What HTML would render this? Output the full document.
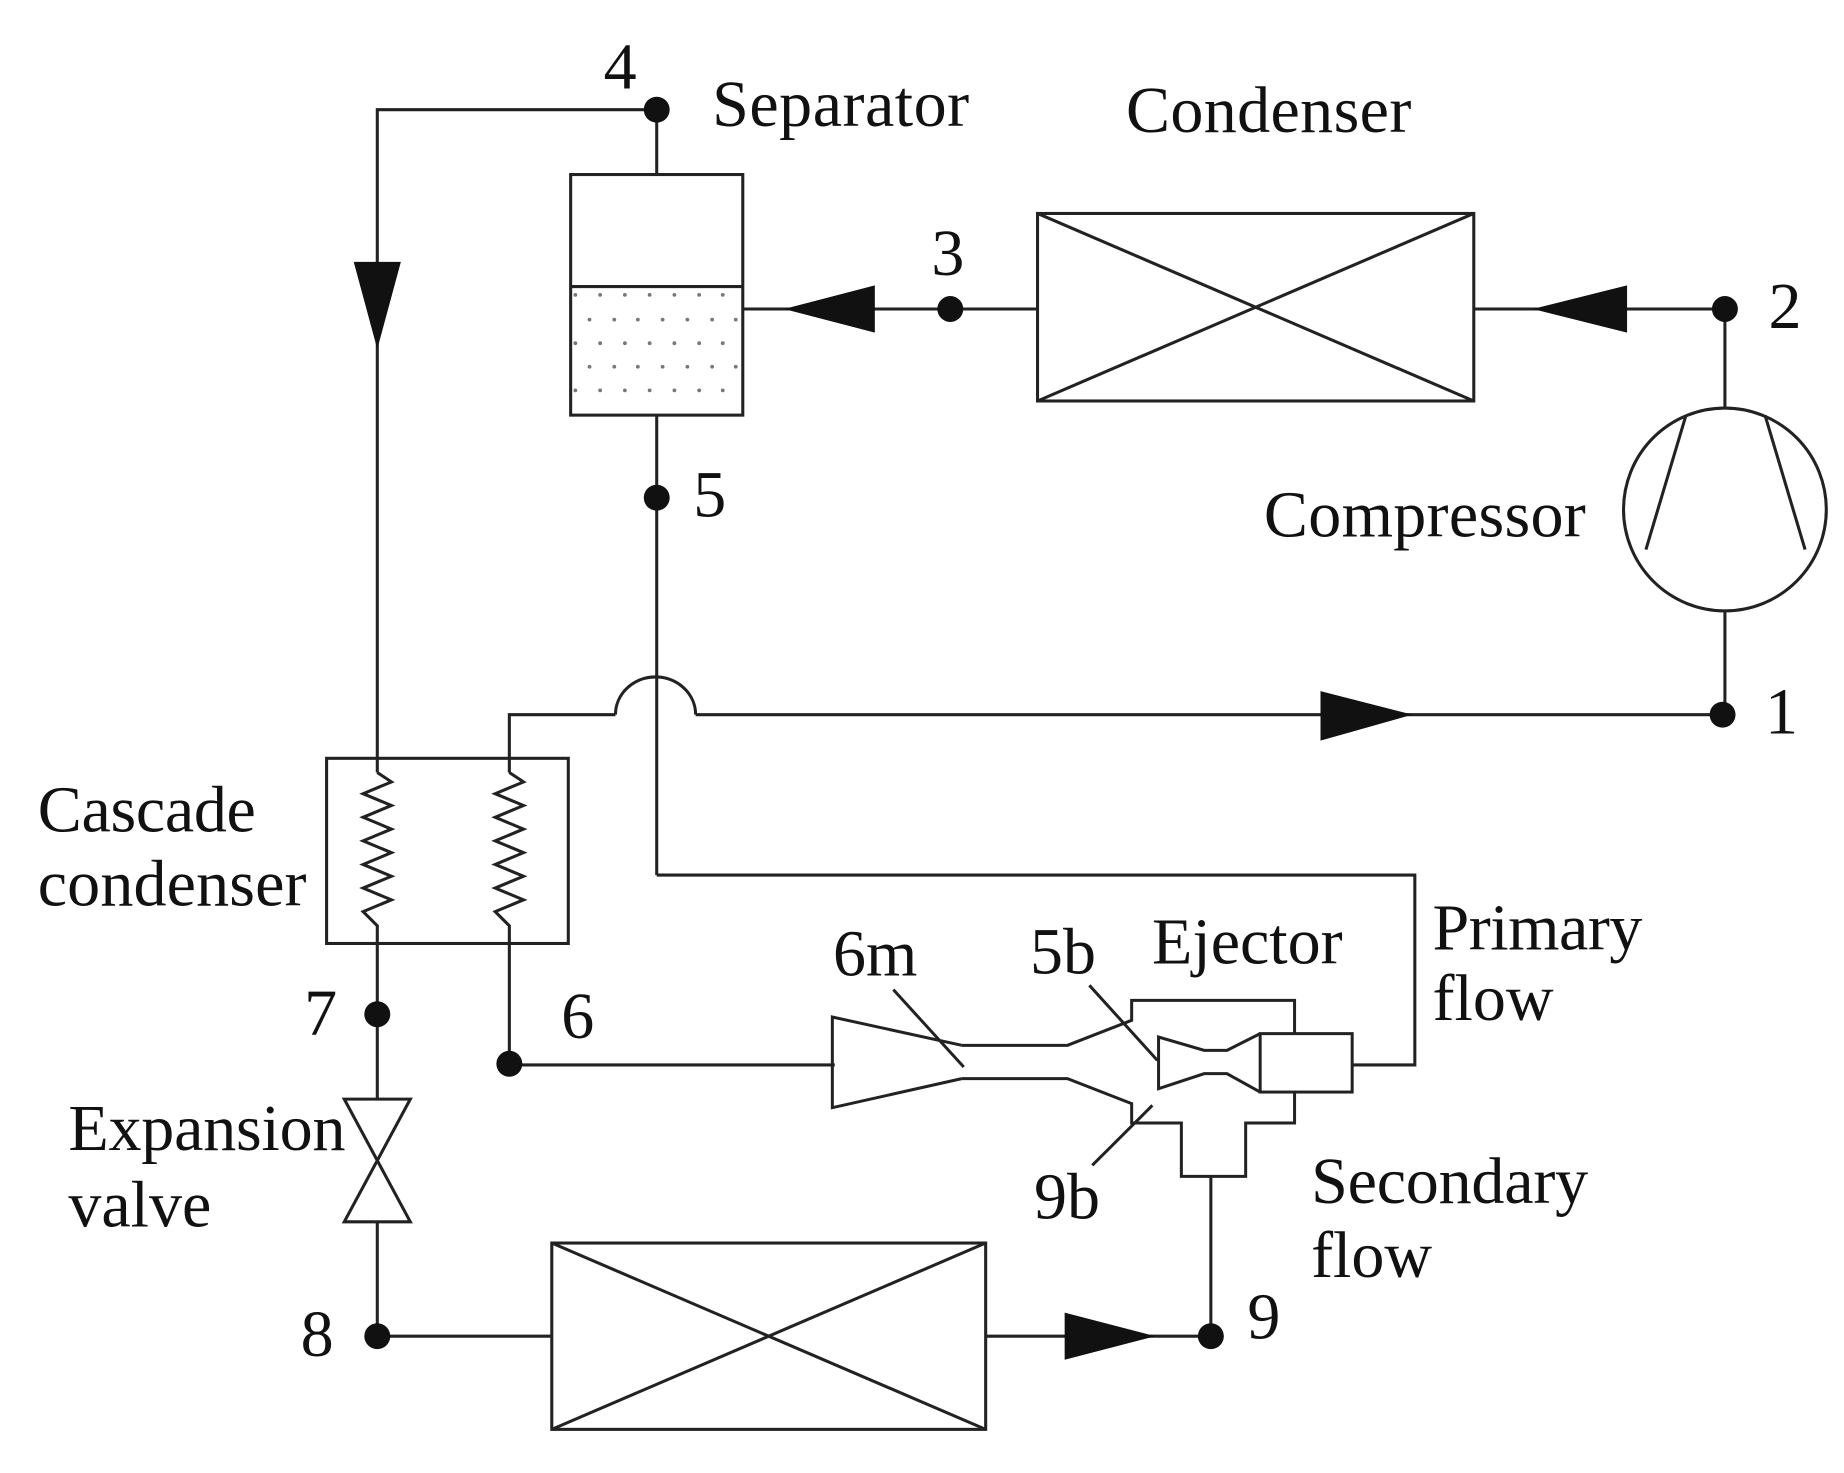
<!DOCTYPE html>
<html><head><meta charset="utf-8"><style>
html,body{margin:0;padding:0;background:#fff;}
svg{display:block;}
text{font-family:"Liberation Serif",serif;fill:#111;}
</style></head><body>
<svg width="1844" height="1473" viewBox="0 0 1564 1249" preserveAspectRatio="none" xmlns="http://www.w3.org/2000/svg">
<g stroke="#222" stroke-width="2.6" fill="none">
<!-- top left loop -->
<polyline points="557,93 320,93 320,643"/>
<line x1="557" y1="93" x2="557" y2="148"/>
<rect x="484" y="148" width="146" height="204"/>
<line x1="484" y1="243" x2="630" y2="243"/>
<line x1="557" y1="352" x2="557" y2="742"/>
<polyline points="557,742 1200,742 1200,903 1148,903"/>
<line x1="630" y1="262" x2="880" y2="262"/>
<rect x="880" y="181" width="370" height="159"/>
<line x1="880" y1="181" x2="1250" y2="340"/>
<line x1="880" y1="340" x2="1250" y2="181"/>
<line x1="1250" y1="262" x2="1463" y2="262"/>
<line x1="1463" y1="262" x2="1463" y2="346"/>
<ellipse cx="1463" cy="432" rx="86" ry="86"/>
<line x1="1430" y1="352" x2="1396" y2="466"/>
<line x1="1497" y1="352" x2="1531" y2="466"/>
<line x1="1463" y1="518" x2="1463" y2="606"/>
<line x1="590" y1="606" x2="1461" y2="606"/>
<path d="M522 606 A34 32 0 0 1 590 606"/>
<polyline points="522,606 432,606 432,655"/>
<rect x="277" y="643" width="205" height="157"/>
<line x1="320" y1="643" x2="320" y2="655"/>
<polyline points="320,655 332,663 308,673 332,683 308,693 332,703 308,713 332,723 308,733 332,743 308,753 332,763 308,773 320,785 320,932"/>
<polyline points="432,655 444,663 420,673 444,683 420,693 444,703 420,713 444,723 420,733 444,743 420,753 444,763 420,773 432,785 432,903 708,903"/>
<polygon points="292,932 348,932 292,1036 348,1036"/>
<line x1="320" y1="1036" x2="320" y2="1133"/>
<line x1="320" y1="1133" x2="468" y2="1133"/>
<rect x="468" y="1054" width="368" height="158"/>
<line x1="468" y1="1054" x2="836" y2="1212"/>
<line x1="468" y1="1212" x2="836" y2="1054"/>
<line x1="836" y1="1133" x2="1027" y2="1133"/>
<line x1="1027" y1="1133" x2="1027" y2="997"/>
</g>
<!-- arrows -->
<g fill="#111">
<polygon points="300,222 340,222 320,296"/>
<polygon points="665,262 742,242 742,282"/>
<polygon points="1300,262 1380,242 1380,282"/>
<polygon points="1198,606 1120,586 1120,628"/>
<polygon points="980,1133 903,1113 903,1153"/>
<circle cx="557" cy="93" r="11"/>
<circle cx="806" cy="262" r="11"/>
<circle cx="1463" cy="262" r="11"/>
<circle cx="557" cy="422" r="11"/>
<circle cx="1461" cy="606" r="11"/>
<circle cx="320" cy="860" r="11"/>
<circle cx="432" cy="902" r="11"/>
<circle cx="320" cy="1133" r="11"/>
<circle cx="1027" cy="1133" r="11"/>
</g>
<!-- separator dots -->
<g fill="#777">
<circle cx="488" cy="250" r="1.6"/><circle cx="509" cy="250" r="1.6"/><circle cx="530" cy="250" r="1.6"/><circle cx="551" cy="250" r="1.6"/><circle cx="572" cy="250" r="1.6"/><circle cx="593" cy="250" r="1.6"/><circle cx="613" cy="250" r="1.6"/>
<circle cx="500" cy="271" r="1.6"/><circle cx="521" cy="271" r="1.6"/><circle cx="541" cy="271" r="1.6"/><circle cx="562" cy="271" r="1.6"/><circle cx="583" cy="271" r="1.6"/><circle cx="604" cy="271" r="1.6"/><circle cx="624" cy="271" r="1.6"/>
<circle cx="488" cy="291" r="1.6"/><circle cx="509" cy="291" r="1.6"/><circle cx="530" cy="291" r="1.6"/><circle cx="551" cy="291" r="1.6"/><circle cx="572" cy="291" r="1.6"/><circle cx="593" cy="291" r="1.6"/><circle cx="613" cy="291" r="1.6"/>
<circle cx="500" cy="311" r="1.6"/><circle cx="521" cy="311" r="1.6"/><circle cx="541" cy="311" r="1.6"/><circle cx="562" cy="311" r="1.6"/><circle cx="583" cy="311" r="1.6"/><circle cx="604" cy="311" r="1.6"/><circle cx="624" cy="311" r="1.6"/>
<circle cx="488" cy="331" r="1.6"/><circle cx="509" cy="331" r="1.6"/><circle cx="530" cy="331" r="1.6"/><circle cx="551" cy="331" r="1.6"/><circle cx="572" cy="331" r="1.6"/><circle cx="593" cy="331" r="1.6"/><circle cx="613" cy="331" r="1.6"/>
</g>
<!-- ejector in actual px -->
<g transform="scale(0.8482)">
<g stroke="#222" stroke-width="3" fill="none">
<polyline points="961.7,1045 832.3,1016.7 832.3,1107.3 961.7,1078.3"/>
<polyline points="961.7,1045 1067.4,1045 1131.6,1020 1131.6,1000 1294.5,1000 1294.5,1033.3"/>
<polyline points="961.7,1078.3 1067.4,1078.3 1131.6,1103.3 1131.6,1122.7 1181.3,1122.7 1181.3,1176 1245.6,1176 1245.6,1122.7 1294.5,1122.7 1294.5,1091.7"/>
<rect x="1260.1" y="1033.3" width="92" height="58.4"/>
<polyline points="1260.1,1033.3 1226.9,1050 1204.1,1050 1158.5,1036.7 1158.5,1088.3 1204.1,1073.3 1226.9,1073.3 1260.1,1091.7"/>
<line x1="893.3" y1="989.3" x2="963.7" y2="1066.7"/>
<line x1="1089.3" y1="985" x2="1157.3" y2="1060"/>
<line x1="1152.3" y1="1105" x2="1092.2" y2="1165"/>
</g>
<g font-size="66">
<text x="833" y="975">6m</text>
<text x="1030" y="973">5b</text>
<text x="1152" y="963">Ejector</text>
<text x="1034" y="1218">9b</text>
</g>
</g>
<!-- labels -->
<g font-size="56">
<text x="512" y="75">4</text>
<text x="604" y="107" textLength="218">Separator</text>
<text x="955" y="112" textLength="242">Condenser</text>
<text x="790" y="233">3</text>
<text x="1500" y="278">2</text>
<text x="588" y="438">5</text>
<text x="1072" y="455" textLength="273">Compressor</text>
<text x="1497" y="622">1</text>
<text x="32" y="705" textLength="185">Cascade</text>
<text x="32" y="768" textLength="228">condenser</text>
<text x="1215" y="805" textLength="178">Primary</text>
<text x="1215" y="865">flow</text>
<text x="258" y="877">7</text>
<text x="476" y="880">6</text>
<text x="58" y="975" textLength="235">Expansion</text>
<text x="58" y="1040">valve</text>
<text x="1112" y="1020" textLength="235">Secondary</text>
<text x="1112" y="1083">flow</text>
<text x="255" y="1150">8</text>
<text x="1058" y="1135">9</text>
</g>
</svg>
</body></html>
